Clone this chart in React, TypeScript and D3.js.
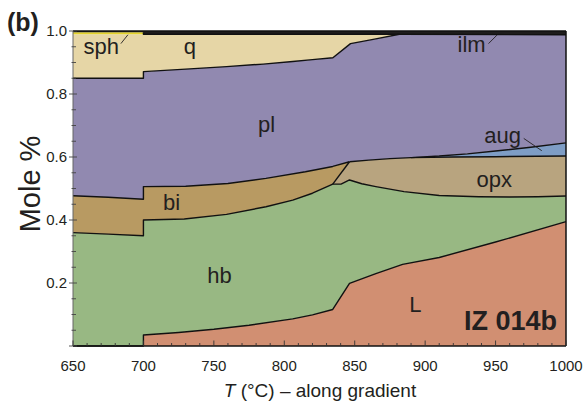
import React from "react";
import * as d3 from "d3";

type P = [number, number];

// Phase boundaries: [T (°C), cumulative mole fraction]
const meltTop: P[] = [[650, 0], [700, 0], [700, 0.035], [725, 0.043], [750, 0.053], [775, 0.066], [806, 0.086], [820, 0.099], [834.4, 0.116], [846.3, 0.199], [865, 0.23], [884, 0.259], [910, 0.281], [950, 0.33], [1000, 0.395]];
const hbTop: P[] = [[650, 0.36], [675, 0.355], [700, 0.35], [700, 0.4], [729, 0.403], [759, 0.418], [787, 0.442], [806, 0.463], [820, 0.485], [834.4, 0.514], [840.3, 0.514], [846.3, 0.527], [855, 0.515], [865, 0.506], [885, 0.49], [910, 0.478], [938, 0.474], [960, 0.473], [980, 0.474], [1000, 0.476]];
const biTop: P[] = [[650, 0.477], [675, 0.472], [700, 0.466], [700, 0.506], [730, 0.507], [760, 0.516], [787, 0.532], [815, 0.553], [834.4, 0.57], [846.3, 0.585]];
const opxTop: P[] = [[846.3, 0.585], [860, 0.59], [875, 0.595], [890, 0.598], [920, 0.6], [950, 0.601], [1000, 0.603]];
const augTop: P[] = [[890, 0.598], [910, 0.603], [930, 0.61], [950, 0.619], [975, 0.631], [1000, 0.645]];
const qBottom: P[] = [[650, 0.85], [700, 0.85], [700, 0.871], [730, 0.879], [759, 0.887], [785, 0.895], [806, 0.903], [820, 0.909], [834.5, 0.915], [847, 0.96], [865, 0.975], [881.7, 0.9895]];
const sphBottom: P[] = [[650, 0.99], [700, 0.99]];
const ilmBottom: P[] = [[650, 0.996], [700, 0.996], [700, 0.9895], [881.7, 0.9895], [1000, 0.988]];
const baseLine: P[] = [[650, 0], [1000, 0]];
const topLine: P[] = [[650, 1], [1000, 1]];
const biOpxEdge: P[] = [[834.4, 0.514], [846.3, 0.585]];

const xTicks = [650, 700, 750, 800, 850, 900, 950, 1000];
const yTicks = [0.2, 0.4, 0.6, 0.8, 1.0];

const phaseLabels: { name: string; T: number; v: number }[] = [
  { name: "sph", T: 670, v: 0.927 },
  { name: "q", T: 733, v: 0.927 },
  { name: "ilm", T: 933, v: 0.933 },
  { name: "pl", T: 787.5, v: 0.68 },
  { name: "aug", T: 955, v: 0.645 },
  { name: "opx", T: 949, v: 0.504 },
  { name: "bi", T: 720, v: 0.432 },
  { name: "hb", T: 754, v: 0.2 },
  { name: "L", T: 893, v: 0.109 },
];

const leaders: { from: P; to: P }[] = [
  { from: [684, 0.96], to: [689, 0.988] },
  { from: [945, 0.96], to: [951, 0.987] },
  { from: [970, 0.659], to: [982.8, 0.62] },
];

const colors: Record<string, string> = {
  L: "#d18f72",
  hb: "#98b883",
  bi: "#b89a62",
  opx: "#b8a47f",
  aug: "#7e9dc5",
  pl: "#9189b0",
  q: "#e6d6a6",
  sph: "#e3d22a",
  ilm: "#1e1c1c",
};

const rev = (a: P[]) => a.slice().reverse();

export default function App() {
  const W = 585, H = 402;
  const x = d3.scaleLinear().domain([650, 1000]).range([73, 566]);
  const y = d3.scaleLinear().domain([0, 1]).range([346, 31]);
  const line = d3.line<P>().x((d) => x(d[0])).y((d) => y(d[1]));
  const poly = (pts: P[]) => (line(pts) || "") + "Z";

  const qTop: P[] = [...sphBottom, ...ilmBottom.filter((d) => d[0] >= 700 && d[0] <= 881.7).slice(1)];
  const sphTop: P[] = ilmBottom.filter((d) => d[0] <= 700).slice(0, 2);

  const regions: { key: string; pts: P[] }[] = [
    { key: "L", pts: [...baseLine, ...rev(meltTop)] },
    { key: "hb", pts: [...meltTop, ...rev(hbTop)] },
    { key: "bi", pts: [...hbTop.filter((d) => d[0] <= 834.4), ...rev(biTop)] },
    { key: "opx", pts: [...hbTop.filter((d) => d[0] >= 834.4), ...rev(opxTop)] },
    { key: "aug", pts: [...opxTop.filter((d) => d[0] >= 890), ...rev(augTop)] },
    {
      key: "pl",
      pts: [
        ...biTop,
        ...opxTop.filter((d) => d[0] > 846.3 && d[0] < 890),
        ...augTop,
        ...rev([...qBottom, ...ilmBottom.filter((d) => d[0] > 881.7)]),
      ],
    },
    { key: "q", pts: [...qBottom, ...rev(qTop)] },
    { key: "sph", pts: [...sphBottom, ...rev(sphTop)] },
    { key: "ilm", pts: [...ilmBottom, ...rev(topLine)] },
  ];

  const strokes: P[][] = [meltTop, hbTop, biTop, biOpxEdge, opxTop, augTop, qBottom, ilmBottom.filter((d) => d[0] >= 700), topLine, baseLine];

  const minorX = d3.range(650, 1001, 10);
  const minorY = d3.range(0, 1.001, 0.05);
  const font = "Liberation Sans, Arial, Helvetica, sans-serif";
  const txt = "#231f20";

  return (
    <svg width={W} height={H} style={{ position: "absolute", left: 0, top: 0, background: "#fff" }} fontFamily={font}>
      {regions.map((r) => (
        <path key={r.key} d={poly(r.pts)} fill={colors[r.key]} stroke="none" />
      ))}
      {strokes.map((s, i) => (
        <path key={i} d={line(s) || ""} fill="none" stroke="#111" strokeWidth={1.4} strokeLinejoin="round" />
      ))}
      <line x1={x(650)} x2={x(650)} y1={y(0)} y2={y(1)} stroke="#666" strokeWidth={1} />
      <line x1={x(1000)} x2={x(1000)} y1={y(0)} y2={y(1)} stroke="#111" strokeWidth={1.5} />
      {minorX.map((t) => {
        const major = t % 50 === 0;
        return <line key={"xt" + t} x1={x(t)} x2={x(t)} y1={y(0)} y2={y(0) - (major ? 5.5 : 3)} stroke="#333" strokeWidth={0.9} />;
      })}
      {minorY.map((v, i) => {
        const major = i % 4 === 0;
        return <line key={"yt" + i} x1={x(650) - (major ? 4 : 1.5)} x2={x(650) + (major ? 4 : 3)} y1={y(v)} y2={y(v)} stroke="#444" strokeWidth={0.9} />;
      })}
      {xTicks.map((t) => (
        <text key={"xl" + t} x={x(t)} y={371} textAnchor="middle" fontSize={15} fill={txt}>{t}</text>
      ))}
      {yTicks.map((v) => (
        <text key={"yl" + v} x={67} y={y(v)} dy="0.36em" textAnchor="end" fontSize={15} fill={txt}>{v.toFixed(1)}</text>
      ))}
      {phaseLabels.map((l) => (
        <text key={l.name} x={x(l.T)} y={y(l.v)} textAnchor="middle" fontSize={22} fill={txt}>{l.name}</text>
      ))}
      {leaders.map((l, i) => (
        <line key={"ld" + i} x1={x(l.from[0])} y1={y(l.from[1])} x2={x(l.to[0])} y2={y(l.to[1])} stroke={txt} strokeWidth={0.9} />
      ))}
      <text x={557} y={330} textAnchor="end" fontSize={27} fontWeight="bold" fill={txt}>IZ 014b</text>
      <text x={7} y={31} fontSize={25} fontWeight="bold" fill={txt}>(b)</text>
      <text transform={`translate(40,184) rotate(-90)`} textAnchor="middle" fontSize={29} fill={txt}>Mole %</text>
      <text x={320} y={397} textAnchor="middle" fontSize={19} fill={txt}>
        <tspan fontStyle="italic">T</tspan> (°C) – along gradient
      </text>
    </svg>
  );
}
